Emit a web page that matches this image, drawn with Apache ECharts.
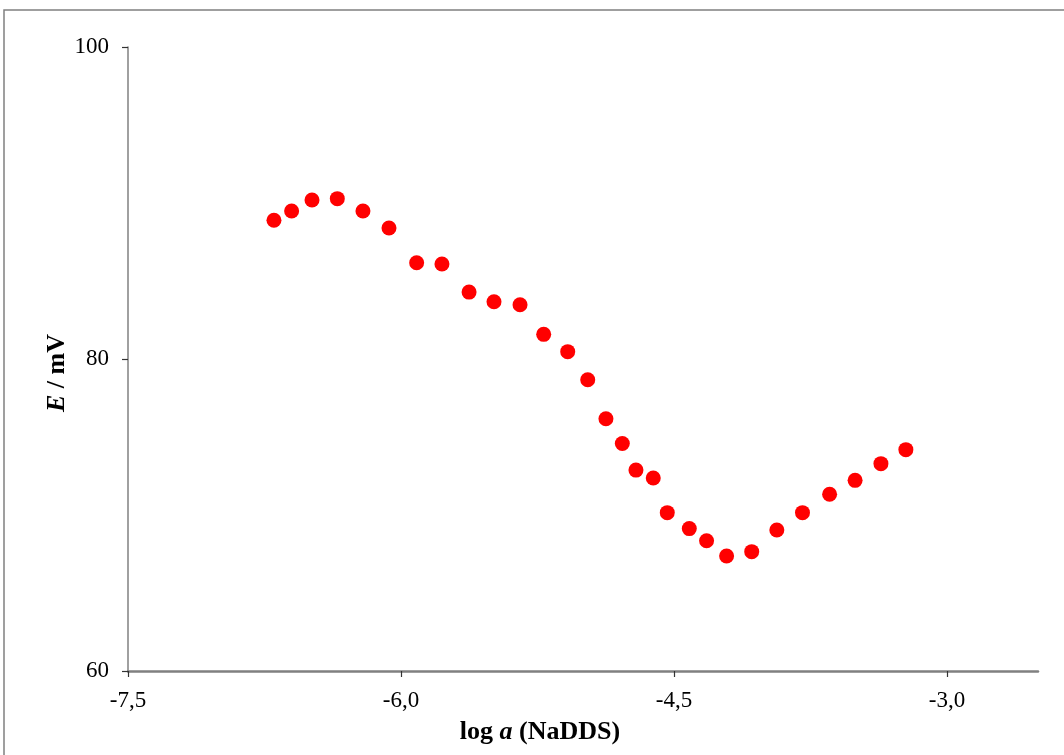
<!DOCTYPE html>
<html>
<head>
<meta charset="utf-8">
<script src="https://cdn.jsdelivr.net/npm/echarts@6/dist/echarts.min.js"></script>
<style>html,body{margin:0;padding:0;background:#fff;}#c{width:1064px;height:755px;}</style>
</head>
<body>
<div id="c"></div>
<script>
var logA = [-6.698,-6.601,-6.489,-6.350,-6.209,-6.066,-5.914,-5.775,-5.626,-5.489,-5.346,-5.216,-5.084,-4.974,-4.874,-4.784,-4.709,-4.614,-4.537,-4.416,-4.321,-4.211,-4.073,-3.935,-3.794,-3.645,-3.505,-3.363,-3.226];
var E = [88.89,89.49,90.19,90.28,89.49,88.40,86.17,86.09,84.29,83.67,83.48,81.58,80.47,78.67,76.17,74.58,72.88,72.37,70.15,69.13,68.35,67.37,67.65,69.04,70.15,71.33,72.22,73.29,74.19];
var xTicks = [-7.5,-6.0,-4.5,-3.0];
var yTicks = [60,80,100];

var chart = echarts.init(document.getElementById('c'), null, {renderer:'canvas'});
var font = 'Liberation Serif';
var rich = {
  b:{fontFamily:font,fontSize:26,fontWeight:'bold',color:'#000'},
  i:{fontFamily:font,fontSize:26,fontWeight:'bold',fontStyle:'italic',color:'#000'}
};
chart.setOption({
  animation:false,
  backgroundColor:'#fff',
  graphic:[{type:'rect',shape:{x:4,y:10,width:1100,height:800},style:{fill:'none',stroke:'#808080',lineWidth:1.5},silent:true}],
  grid:{left:128,right:26,top:47,bottom:84},
  xAxis:{
    type:'value',min:-7.5,max:-2.5,interval:1.5,
    axisLine:{lineStyle:{color:'#808080',width:2.5}},
    axisTick:{show:true,length:6,customValues:xTicks,lineStyle:{color:'#333',width:1.2}},
    axisLabel:{customValues:xTicks,color:'#000',fontFamily:font,fontSize:23,margin:18,
      formatter:function(v){return v.toFixed(1).replace('.',',');}},
    splitLine:{show:false},
    name:'{b|log }{i|a}{b| (NaDDS)}',nameLocation:'middle',nameGap:48,nameMoveOverlap:false,
    nameTextStyle:{rich:rich,padding:[0,86,0,0]}
  },
  yAxis:{
    type:'value',min:60,max:100,interval:20,
    axisLine:{show:true,lineStyle:{color:'#808080',width:1.5}},
    axisTick:{show:true,length:6,lineStyle:{color:'#333',width:1.2}},
    axisLabel:{color:'#000',fontFamily:font,fontSize:23,margin:19},
    splitLine:{show:false},
    name:'{i|E}{b| / mV}',nameLocation:'middle',nameGap:58,nameMoveOverlap:false,
    nameTextStyle:{rich:rich,padding:[0,28,0,0]}
  },
  series:[{type:'scatter',symbol:'circle',symbolSize:15,itemStyle:{color:'#ff0000',opacity:1},
    data:logA.map(function(x,i){return [x,E[i]];})}]
});
</script>
</body>
</html>
